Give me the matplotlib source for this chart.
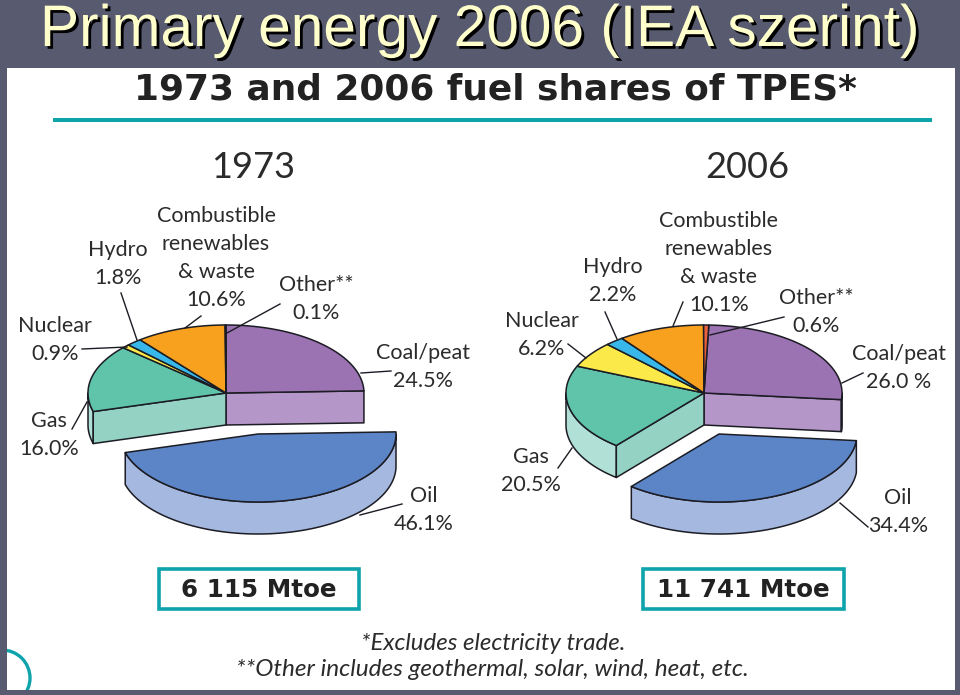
import matplotlib
matplotlib.use("Agg")
import matplotlib.pyplot as plt
import numpy as np
from matplotlib.patches import Circle, Rectangle
from matplotlib import patheffects as pe

FUELS = ["Coal/peat", "Oil", "Gas", "Nuclear", "Hydro", "Combustible", "Other**"]
SHARES_1973 = [24.5, 46.1, 16.0, 0.9, 1.8, 10.6, 0.1]
SHARES_2006 = [26.0, 34.4, 20.5, 6.2, 2.2, 10.1, 0.6]
TOTAL_1973 = "6 115 Mtoe"
TOTAL_2006 = "11 741 Mtoe"

BG = "#585b6f"
TEAL = "#0fa3ac"
INK = "#2b2b2b"
EDGE = "#1c1c24"
TOPS = ["#9b72b2", "#5b85c6", "#5fc4aa", "#fbe94a", "#38b8ea", "#f8a11e"]
COAL_SIDE = "#b596c8"
OIL_SIDE = "#a5b8df"
GAS_CUT = "#94d3c3"
GAS_RIM = "#b0e0d6"

RX, RY, DEPTH = 138, 68, 32


def rim(cx, cy, a0, a1):
    t = np.radians(np.linspace(a0, a1, max(2, int(abs(a1 - a0) * 2))))
    return cx + RX * np.cos(t), cy - RY * np.sin(t)


def wedge(ax, cx, cy, a0, a1, color):
    x, y = rim(cx, cy, a0, a1)
    ax.fill(np.r_[cx, x], np.r_[cy, y], fc=color, ec=EDGE, lw=1.1, joinstyle="round")


def wall(ax, x, y, color):
    ax.fill(np.r_[x, x[::-1]], np.r_[y, y[::-1] + DEPTH], fc=color, ec=EDGE, lw=1.1, joinstyle="round")


def draw_pie(ax, shares, cx, cy, oil_dx, oil_dy, start, other_color):
    # angles run clockwise from the top of the ellipse
    edges = start + np.r_[0, np.cumsum(shares)] * 3.6
    ang = 90 - edges
    coal_end, oil_end = ang[1], ang[2]

    # cut faces and rims behind the top faces
    x, y = rim(cx, cy, coal_end, coal_end)
    wall(ax, np.array([cx, x[0]]), np.array([cy, y[0]]), COAL_SIDE)
    if coal_end < 0:
        x, y = rim(cx, cy, 0, coal_end)
        wall(ax, x, y, COAL_SIDE)
    x, y = rim(cx, cy, oil_end, -180)
    wall(ax, x, y, GAS_RIM)
    x, y = rim(cx, cy, oil_end, oil_end)
    wall(ax, np.array([cx, x[0]]), np.array([cy, y[0]]), GAS_CUT)

    colors = TOPS + [other_color]
    for i in range(len(shares)):
        if i != 1:
            wedge(ax, cx, cy, ang[i], ang[i + 1], colors[i])

    # oil slice pulled out of the pie
    ox, oy = cx + oil_dx, cy + oil_dy
    x, y = rim(ox, oy, min(coal_end, 0), oil_end)
    wall(ax, x, y, OIL_SIDE)
    wedge(ax, ox, oy, coal_end, oil_end, TOPS[1])


def lines(ax, x, y, rows, step=28, size=15.5):
    for i, s in enumerate(rows):
        ax.text(x, y + i * step, s, ha="center", va="center", fontsize=size, color=INK, family="Lato")


def leader(ax, pts):
    for x0, y0, x1, y1 in pts:
        ax.plot([x0, x1], [y0, y1], color=EDGE, lw=1.0)


fig = plt.figure(figsize=(9.6, 6.95), dpi=100, facecolor=BG)
ax = fig.add_axes([0, 0, 1, 1])
ax.set_xlim(0, 960)
ax.set_ylim(695, 0)
ax.axis("off")

panel = Rectangle((7, 68), 948, 622, fc="white", ec="none")
ax.add_patch(panel)

title = ax.text(40, 46, "Primary energy 2006 (IEA szerint)", fontsize=42.2, color="#ffffcc",
                family="Liberation Sans", ha="left", va="baseline")
title.set_path_effects([pe.PathPatchEffect(offset=(2, -2), facecolor="black", edgecolor="none"), pe.Normal()])

ax.text(495, 90, "1973 and 2006 fuel shares of TPES*", fontsize=25.8, fontweight="bold", color="#222222",
        family="DejaVu Sans", ha="center", va="center")
ax.plot([53, 932], [119.5, 119.5], color=TEAL, lw=2.9, solid_capstyle="butt")

ax.text(253, 167, "1973", fontsize=26, color=INK, family="Lato", ha="center", va="center")
ax.text(747, 167, "2006", fontsize=26, color=INK, family="Lato", ha="center", va="center")

draw_pie(ax, SHARES_1973, 226, 393, 32, 41, 0, TOPS[0])
draw_pie(ax, SHARES_2006, 704, 393, 15, 41, 2, "#e8603c")

lines(ax, 216, 216, ["Combustible", "renewables", "& waste", f"{SHARES_1973[5]}%"])
lines(ax, 118, 250, ["Hydro", f"{SHARES_1973[4]}%"])
lines(ax, 55, 326, ["Nuclear", f"{SHARES_1973[3]}%"])
lines(ax, 316, 285, ["Other**", f"{SHARES_1973[6]}%"])
lines(ax, 423, 353, ["Coal/peat", f"{SHARES_1973[0]}%"])
lines(ax, 49, 421, ["Gas", f"{SHARES_1973[2]}%"])
lines(ax, 424, 496, ["Oil", f"{SHARES_1973[1]}%"])

lines(ax, 719, 221, ["Combustible", "renewables", "& waste", f"{SHARES_2006[5]}%"])
lines(ax, 613, 267, ["Hydro", f"{SHARES_2006[4]}%"])
lines(ax, 542, 321, ["Nuclear", f"{SHARES_2006[3]}%"])
lines(ax, 816, 298, ["Other**", f"{SHARES_2006[6]}%"])
lines(ax, 899, 354, ["Coal/peat", f"{SHARES_2006[0]} %"])
lines(ax, 531, 457, ["Gas", f"{SHARES_2006[2]}%"])
lines(ax, 898, 498, ["Oil", f"{SHARES_2006[1]}%"])

leader(ax, [(280, 304, 227, 333), (201, 316, 185, 328), (121, 293, 137, 340), (82, 349, 127, 347),
            (72, 429, 87, 402), (391, 371, 361, 373), (402, 504, 360, 515),
            (784, 317, 710, 335), (683, 302, 673, 326), (605, 312, 617, 339), (568, 344, 586, 358),
            (558, 468, 572, 448), (863, 373, 842, 383), (868, 527, 840, 503)])

for x0, w, s in [(158.5, 200, TOTAL_1973), (642.5, 201, TOTAL_2006)]:
    ax.add_patch(Rectangle((x0, 568.5), w, 40, fc="white", ec=TEAL, lw=2.6))
    ax.text(x0 + w / 2, 590, s, fontsize=17.7, fontweight="bold", color="#222222", family="DejaVu Sans",
            ha="center", va="center")

ax.text(493, 644, "*Excludes electricity trade.", fontsize=17.3, style="italic", color=INK,
        family="Lato", ha="center", va="center")
ax.text(492, 670, "**Other includes geothermal, solar, wind, heat, etc.", fontsize=17.6, style="italic",
        color=INK, family="Lato", ha="center", va="center")

arc = Circle((2, 678), 28, fc="none", ec=TEAL, lw=2.4)
ax.add_patch(arc)
arc.set_clip_path(panel)

fig.savefig("out.png", dpi=100, facecolor=BG)
